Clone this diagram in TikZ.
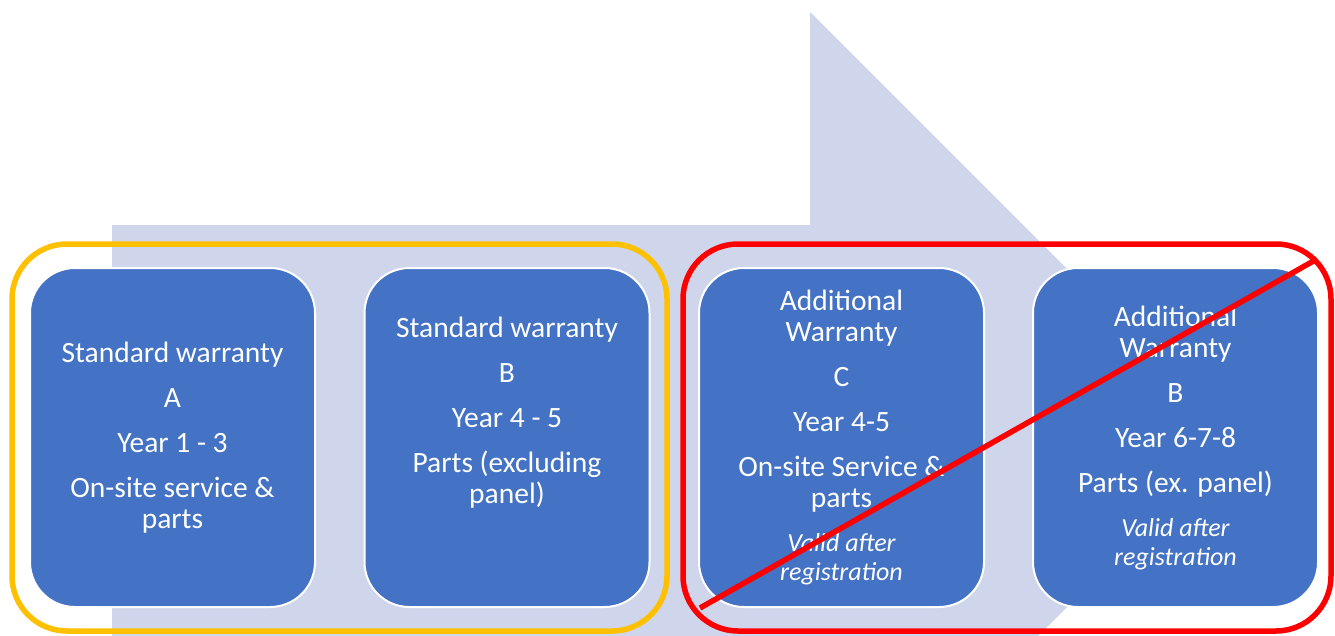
\documentclass[tikz,border=0pt]{standalone}
\usepackage{fontspec}
\setmainfont{Carlito}
\definecolor{boxblue}{HTML}{4472C4}
\definecolor{arrowfill}{HTML}{CFD5EA}
\definecolor{frameyellow}{HTML}{FFC000}
\definecolor{framered}{HTML}{FF0000}
\tikzset{
  card/.style={rectangle, rounded corners=45pt, fill=boxblue, draw=white, line width=2pt,
    minimum width=285pt, minimum height=339pt, text=white, align=center, inner sep=0pt,
    font=\fontsize{29.5}{31}\selectfont},
  groupframe/.style={rounded corners=55pt, line width=5.5pt}
}
\newcommand{\smallit}[1]{{\fontsize{26}{29}\selectfont\itshape #1}}
\begin{document}
\begin{tikzpicture}[x=1pt,y=-1pt]
\useasboundingbox (0,0) rectangle (1335,635);
\fill[white] (0,0) rectangle (1335,635);
\begin{scope}
\clip (0,0) rectangle (1335,635);
\fill[arrowfill] (112,225) -- (810,225) -- (810,12) -- (1236,438) -- (810,864) -- (810,651) -- (112,651) -- cycle;
\end{scope}
\node[card] (b1) at (172.5,437.5) {Standard warranty\\[14pt]A\\[14pt]Year 1 - 3\\[14pt]On-site service \&\\parts};
\node[card] (b2) at (507,437.5) {Standard warranty\\[14pt]B\\[14pt]Year 4 - 5\\[14pt]Parts (excluding\\panel)\\[14pt]\strut};
\node[card] (b3) at (841.5,437.5) {Additional\\Warranty\\[14pt]C\\[14pt]Year 4-5\\[14pt]On-site Service \&\\parts\\[13pt]\smallit{Valid after}\\[-2pt]\smallit{registration}};
\node[card] (b4) at (1175.5,437.5) {Additional\\Warranty\\[14pt]B\\[14pt]Year 6-7-8\\[14pt]Parts (ex. panel)\\[13pt]\smallit{Valid after}\\[-2pt]\smallit{registration}};
\draw[groupframe, frameyellow] (12,244) rectangle (667,631);
\draw[groupframe, framered] (683,244) rectangle (1331,631);
\coordinate (xa) at (700,608);
\coordinate (xb) at (1317,259);
\draw[framered, line width=5.5pt] (xa) -- (xb);
\end{tikzpicture}
\end{document}
